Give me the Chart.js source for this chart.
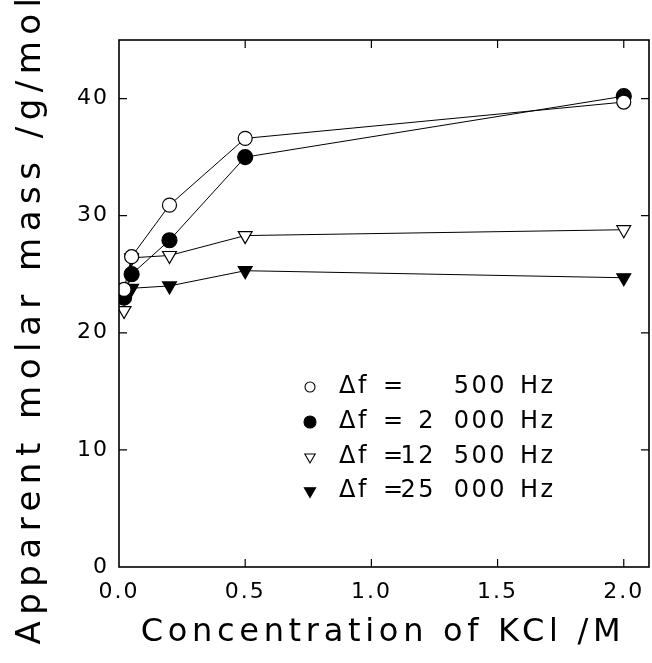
<!DOCTYPE html>
<html>
<head>
<meta charset="utf-8">
<script src="https://cdn.jsdelivr.net/npm/chart.js@4"></script>
<style>
html,body{margin:0;padding:0;background:#fff;}
#wrap{width:652px;height:663px;position:relative;}
</style>
</head>
<body>
<div id="wrap"><canvas id="c" width="652" height="663"></canvas></div>
<script>
// Data
const concentrations = [0.02, 0.05, 0.2, 0.5, 2.0];
const mass500   = [23.7, 26.5, 30.9, 36.6, 39.7];
const mass2000  = [23.0, 25.0, 27.9, 35.0, 40.2];
const mass12500 = [21.9, 26.4, 26.6, 28.3, 28.8];
const mass25000 = [23.2, 23.8, 24.0, 25.3, 24.7];
const seriesLabels = ['Δf =   500 Hz', 'Δf = 2 000 Hz', 'Δf =12 500 Hz', 'Δf =25 000 Hz'];
const legendNumbers = ['500', '2\u2007000', '12\u2007500', '25\u2007000'];
const xTicks = [0.0, 0.5, 1.0, 1.5, 2.0];
const yTicks = [0, 10, 20, 30, 40];
const xTitle = 'Concentration of KCl /M';
const yTitle = 'Apparent molar mass /g/mol';

const FONT = '"DejaVu Sans", sans-serif';

function pts(ys){ return concentrations.map((x,i)=>({x:x, y:ys[i]})); }

const styles = [
  {pointStyle:'circle', radius:7, rotation:0, bg:'#fff', lr:5},
  {pointStyle:'circle', radius:7.5, rotation:0, bg:'#000', lr:6},
  {pointStyle:'triangle', radius:8, rotation:180, bg:'#fff', lr:6},
  {pointStyle:'triangle', radius:8, rotation:180, bg:'#000', lr:6.5}
];
const allSeries = [mass500, mass2000, mass12500, mass25000];

const datasets = allSeries.map((s,i)=>({
  label: seriesLabels[i],
  data: pts(s),
  showLine: true,
  borderColor: '#000',
  borderWidth: 1,
  pointStyle: styles[i].pointStyle,
  pointRadius: styles[i].radius,
  pointRotation: styles[i].rotation,
  pointBackgroundColor: styles[i].bg,
  pointBorderColor: '#000',
  pointBorderWidth: 1.2,
  fill: false,
  tension: 0
}));

const spacingPlugin = {
  id: 'spacing',
  beforeUpdate(chart){ chart.ctx.letterSpacing = '2px'; },
  beforeLayout(chart){ chart.ctx.letterSpacing = '2px'; },
  beforeDraw(chart){ chart.ctx.letterSpacing = '2px'; }
};

const framePlugin = {
  id: 'frame',
  afterDatasetsDraw(chart){
    const {ctx, chartArea:a, scales:{x, y}} = chart;
    ctx.save();
    ctx.strokeStyle = '#000';
    ctx.lineWidth = 1.6;
    ctx.strokeRect(a.left, a.top, a.right - a.left, a.bottom - a.top);
    ctx.lineWidth = 1.2;
    const L = 8;
    ctx.beginPath();
    xTicks.forEach(v=>{
      const px = x.getPixelForValue(v);
      if (v === 0) return;
      ctx.moveTo(px, a.bottom); ctx.lineTo(px, a.bottom - L);
      ctx.moveTo(px, a.top); ctx.lineTo(px, a.top + L);
    });
    yTicks.forEach(v=>{
      const py = y.getPixelForValue(v);
      if (v === 0) return;
      ctx.moveTo(a.left, py); ctx.lineTo(a.left + L, py);
      ctx.moveTo(a.right, py); ctx.lineTo(a.right - L, py);
    });
    ctx.stroke();

    // legend inside plot
    const rowsY = [387, 422, 457, 491];
    ctx.font = '24px ' + FONT;
    ctx.fillStyle = '#000';
    ctx.textBaseline = 'middle';
    ctx.letterSpacing = '2.5px';
    chart.data.datasets.forEach((ds, i)=>{
      const yy = rowsY[i];
      ctx.fillStyle = styles[i].bg;
      ctx.strokeStyle = '#000';
      ctx.lineWidth = 1.1;
      Chart.helpers.drawPoint(ctx, {pointStyle: styles[i].pointStyle, radius: styles[i].lr, rotation: styles[i].rotation, borderWidth: 1.1}, 310, yy);
      ctx.fillStyle = '#000';
      ctx.textAlign = 'left';
      ctx.fillText('Δf', 339, yy);
      ctx.fillText('=', 383, yy);
      ctx.textAlign = 'right';
      ctx.fillText(legendNumbers[i], 507, yy);
      ctx.textAlign = 'left';
      ctx.fillText('Hz', 520, yy);
    });

    // axis titles
    ctx.fillStyle = '#000';
    ctx.textAlign = 'center';
    ctx.textBaseline = 'middle';
    ctx.font = '32px ' + FONT;
    ctx.letterSpacing = '4.7px';
    ctx.fillText(xTitle, 383, 633);
    ctx.save();
    ctx.translate(31, 318);
    ctx.rotate(-Math.PI / 2);
    ctx.font = '34px ' + FONT;
    ctx.letterSpacing = '6.5px';
    ctx.fillText(yTitle, 0, 0);
    ctx.restore();
    ctx.restore();
  }
};

new Chart(document.getElementById('c'), {
  type: 'scatter',
  data: { datasets },
  options: {
    responsive: false,
    animation: false,
    layout: { autoPadding: false, padding: { top: 40, right: 3, left: 0, bottom: 0 } },
    plugins: { legend: { display: false }, tooltip: { enabled: false } },
    scales: {
      x: {
        type: 'linear', min: 0, max: 2.1,
        grid: { display: false, drawTicks: false },
        border: { display: false },
        afterBuildTicks(s){ s.ticks = xTicks.map(v=>({value:v})); },
        afterFit(s){ s.height = 96; s.paddingRight = 0; s.paddingLeft = 0; },
        ticks: {
          color: '#000', padding: 12,
          font: { family: FONT, size: 22 },
          callback: v => Number(v).toFixed(1),
          maxRotation: 0, autoSkip: false
        },
        title: { display: false }
      },
      y: {
        type: 'linear', min: 0, max: 45,
        grid: { display: false, drawTicks: false },
        border: { display: false },
        afterBuildTicks(s){ s.ticks = yTicks.map(v=>({value:v})); },
        afterFit(s){ s.width = 119; s.paddingTop = 0; s.paddingBottom = 0; },
        ticks: {
          color: '#000', padding: 10,
          font: { family: FONT, size: 22 },
          callback: v => String(v)
        },
        title: { display: false }
      }
    }
  },
  plugins: [spacingPlugin, framePlugin]
});
</script>
</body>
</html>
